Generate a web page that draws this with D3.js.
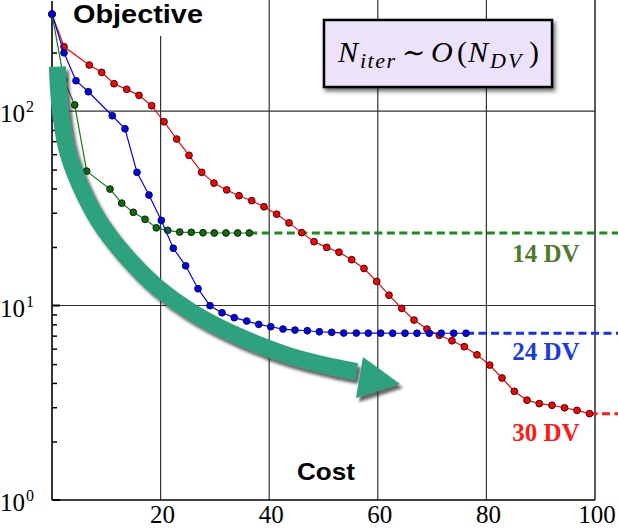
<!DOCTYPE html>
<html>
<head>
<meta charset="utf-8">
<script src="https://cdn.jsdelivr.net/npm/d3@7"></script>
<style>
  body { margin: 0; background: #fff; }
  svg { display: block; }
</style>
</head>
<body>
<script>
// values: cost (x) and objective (y)
let cost14 = [0, 2.21, 4.18, 6.39, 10.68, 12.84, 14.97, 17.13, 19.21, 21.31, 23.52, 25.65, 27.81, 29.89, 32.04, 34.2, 36.34]
let obj14 = [315, 144.3, 107.4, 49.1, 39.7, 33.6, 30.15, 27.75, 25.1, 24.36, 23.87, 23.8, 23.67, 23.6, 23.6, 23.6, 23.6]

let cost24 = [0, 2.21, 4.42, 6.69, 11.1, 13.44, 15.65, 17.86, 20.13, 22.34, 24.62, 26.89, 29.1, 31.31, 33.57, 35.86, 38.07,
  40.28, 42.54, 44.75, 47.02, 49.23, 51.51, 53.72, 56.04, 58.25, 60.53, 62.74, 65.01, 67.22, 69.48, 71.69, 73.98, 76.24]
let obj24 = [315, 199.4, 143.2, 125.7, 94.6, 81.1, 48.4, 37.0, 27.4, 19.7, 16.0, 12.2, 9.98, 9.18, 8.66, 8.32, 8.0,
  7.78, 7.57, 7.48, 7.42, 7.33, 7.28, 7.22, 7.22, 7.21, 7.21, 7.2, 7.2, 7.2, 7.2, 7.2, 7.2, 7.2]

let cost30 = [0, 2.21, 6.87, 9.15, 11.42, 13.76, 16.02, 18.36, 20.63, 22.96, 25.23, 27.57, 29.83, 32.17, 34.44, 36.78,
  39.04, 41.38, 43.65, 45.98, 48.25, 50.59, 52.85, 55.19, 57.46, 59.8, 62.06, 64.4, 66.67, 69.06, 71.33, 73.66, 75.93,
  78.27, 80.61, 82.87, 85.14, 87.48, 89.74, 92.08, 94.38, 96.69, 98.99]
let obj30 = [315, 214.1, 172.4, 158.1, 138.2, 129.3, 120.4, 106.5, 88.1, 71.8, 59.2, 48.4, 42.6, 39.3, 36.7, 34.6,
  32.2, 29.5, 26.6, 23.7, 21.3, 19.9, 18.8, 17.2, 15.5, 13.3, 11.3, 9.67, 8.42, 7.57, 7.03, 6.59, 6.14,
  5.58, 4.94, 4.24, 3.62, 3.26, 3.13, 3.07, 2.98, 2.89, 2.78]

let seriesNames = ['14 DV', '24 DV', '30 DV']
let xTicks = [20, 40, 60, 80, 100]
let yMajor = [1, 10, 100]
let yExponents = ['0', '1', '2']

// the big annotation arrow, in (cost, objective) units
let arrowShaft = [[0.98, 169], [1.47, 105.2], [2.71, 64.3], [5.16, 41.6], [8.53, 27.5], [13.13, 18.6],
  [19.28, 12.5], [26.65, 8.94], [35.23, 6.78], [43.83, 5.5], [51.51, 4.85], [56.11, 4.57]]
let arrowHead = [[57.27, 5.44], [64.09, 3.95], [55.98, 3.35]]

let W = 618, H = 529
let margins = { top: 1, right: 23, bottom: 29, left: 52 }
let width = W - margins.left - margins.right
let height = H - margins.top - margins.bottom

let x = d3.scaleLinear().domain([0, 100]).range([0, width])
let y = d3.scaleLog().domain([1, 368]).range([height, 0])

let svgRoot = d3.select('body').append('svg')
  .attr('width', W)
  .attr('height', H)

let defs = svgRoot.append('defs')
defs.append('filter').attr('id', 'shadow')
    .attr('x', '-20%').attr('y', '-20%').attr('width', '140%').attr('height', '140%')
  .append('feDropShadow')
    .attr('dx', 3).attr('dy', 4).attr('stdDeviation', 1.8)
    .attr('flood-color', '#333').attr('flood-opacity', 0.75)
defs.append('filter').attr('id', 'boxshadow')
    .attr('x', '-20%').attr('y', '-20%').attr('width', '140%').attr('height', '160%')
  .append('feDropShadow')
    .attr('dx', 2).attr('dy', 3).attr('stdDeviation', 2)
    .attr('flood-color', '#000').attr('flood-opacity', 0.6)

let svg = svgRoot.append('g')
  .attr('transform', 'translate(' + [margins.left, margins.top] + ')')

// grid
let gridColor = '#333'
svg.append('g').selectAll('line')
  .data(xTicks)
  .enter().append('line')
    .attr('x1', x).attr('x2', x)
    .attr('y1', -margins.top).attr('y2', height)
    .attr('stroke', gridColor)
    .attr('stroke-width', (d) => d === 100 ? 1.6 : 1.2)

svg.append('g').selectAll('line')
  .data(yMajor.slice(1))
  .enter().append('line')
    .attr('x1', 0).attr('x2', width)
    .attr('y1', y).attr('y2', y)
    .attr('stroke', gridColor)
    .attr('stroke-width', 1.2)

// y axis (ticks point into the plot)
let minor = y.ticks().filter((d) => d <= 200 && yMajor.indexOf(d) < 0)
svg.append('g')
  .attr('class', 'axis y')
  .call(d3.axisRight(y).tickValues(minor).tickSize(5).tickFormat(''))
  .call((g) => g.select('.domain').remove())
  .selectAll('line').attr('stroke-width', 1.5)

svg.append('g').selectAll('line')
  .data(yMajor)
  .enter().append('line')
    .attr('x1', 0).attr('x2', 8)
    .attr('y1', y).attr('y2', y)
    .attr('stroke', '#000')
    .attr('stroke-width', 2)

svg.append('line')
  .attr('x1', 0).attr('x2', 0)
  .attr('y1', 0).attr('y2', height)
  .attr('stroke', '#000').attr('stroke-width', 1.6)
svg.append('line')
  .attr('x1', 0).attr('x2', width)
  .attr('y1', height).attr('y2', height)
  .attr('stroke', '#000').attr('stroke-width', 1.6)

// tick labels
let serif = '"Liberation Serif", "Times New Roman", serif'
svg.append('g').selectAll('text')
  .data(xTicks)
  .enter().append('text')
    .attr('x', (d) => x(d) + 2)
    .attr('y', height + 23)
    .attr('text-anchor', 'middle')
    .attr('font-family', serif)
    .attr('font-size', 25)
    .text((d) => d)

let yLab = svg.append('g').selectAll('text')
  .data(yMajor)
  .enter().append('text')
    .attr('x', -18)
    .attr('y', (d) => y(d) + 11)
    .attr('text-anchor', 'end')
    .attr('font-family', serif)
    .attr('font-size', 25)
yLab.append('tspan').text('10')
yLab.append('tspan')
  .attr('font-size', 16)
  .attr('dy', -10)
  .attr('dx', 1)
  .text((d, i) => yExponents[i])

// title behind a white patch
svg.append('rect')
  .attr('x', 14).attr('y', -margins.top)
  .attr('width', 170).attr('height', 36)
  .attr('fill', '#fff')
svg.append('text')
  .attr('x', 21).attr('y', 22)
  .attr('font-family', '"Liberation Sans", Arial, sans-serif')
  .attr('font-weight', 'bold')
  .attr('font-size', 25)
  .attr('textLength', 130)
  .attr('lengthAdjust', 'spacingAndGlyphs')
  .text('Objective')

svg.append('text')
  .attr('x', 245).attr('y', 479)
  .attr('font-family', '"Liberation Sans", Arial, sans-serif')
  .attr('font-weight', 'bold')
  .attr('font-size', 24)
  .attr('textLength', 58)
  .attr('lengthAdjust', 'spacingAndGlyphs')
  .text('Cost')

// series
let series = [
  { name: seriesNames[0], cost: cost14, obj: obj14, line: '#0f7f0f', dot: '#0b6e0b', dash: '#1c8a1c', label: '#4d7a2b' },
  { name: seriesNames[1], cost: cost24, obj: obj24, line: '#0000ff', dot: '#0000ff', dash: '#1430f0', label: '#1a3ae0' },
  { name: seriesNames[2], cost: cost30, obj: obj30, line: '#ff0000', dot: '#ff0000', dash: '#ff1a1a', label: '#ff1a1a' }
]

let lineGen = d3.line()
  .x((d) => x(d[0]))
  .y((d) => y(d[1]))

// dashed continuations of each final value
series.forEach((s) => {
  let last = s.cost.length - 1
  svg.append('line')
    .attr('x1', x(s.cost[last])).attr('x2', W - margins.left)
    .attr('y1', y(s.obj[last])).attr('y2', y(s.obj[last]))
    .attr('stroke', s.dash)
    .attr('stroke-width', 3)
    .attr('stroke-dasharray', '8,4.5')
})

// red below green below blue
let order = [2, 0, 1]
order.forEach((k) => {
  let s = series[k]
  let pts = s.cost.map((c, i) => [c, s.obj[i]])
  svg.append('path')
    .attr('d', lineGen(pts))
    .attr('fill', 'none')
    .attr('stroke', s.line)
    .attr('stroke-width', 1.2)
  svg.append('g').selectAll('circle')
    .data(pts)
    .enter().append('circle')
      .attr('cx', (d) => x(d[0]))
      .attr('cy', (d) => y(d[1]))
      .attr('r', 3.4)
      .attr('fill', s.dot)
      .attr('stroke', '#111')
      .attr('stroke-width', 0.9)
})

// series labels
let labelY = [262, 360, 441]
svg.append('g').selectAll('text')
  .data(series)
  .enter().append('text')
    .attr('x', 494)
    .attr('y', (d, i) => labelY[i] - margins.top)
    .attr('text-anchor', 'middle')
    .attr('font-family', serif)
    .attr('font-weight', 'bold')
    .attr('font-size', 25)
    .attr('fill', (d) => d.label)
    .text((d) => d.name)

// curved arrow
let arrow = svg.append('g').attr('filter', 'url(#shadow)')
arrow.append('path')
  .attr('d', d3.line().x((d) => x(d[0])).y((d) => y(d[1])).curve(d3.curveCatmullRom)(arrowShaft))
  .attr('fill', 'none')
  .attr('stroke', '#2fa27f')
  .attr('stroke-width', 17)
arrow.append('path')
  .attr('d', 'M' + arrowHead.map((d) => [x(d[0]), y(d[1])]).join('L') + 'Z')
  .attr('fill', '#2fa27f')

// formula box
let box = svg.append('g').attr('transform', 'translate(' + [324 - margins.left, 20 - margins.top] + ')')
box.append('rect')
  .attr('width', 228).attr('height', 67)
  .attr('fill', '#ece3fa')
  .attr('stroke', '#000')
  .attr('stroke-width', 2.5)
  .attr('filter', 'url(#boxshadow)')
let f = box.append('text')
  .attr('y', 42)
  .attr('font-family', serif)
  .attr('font-style', 'italic')
  .attr('font-size', 30)
f.append('tspan').attr('x', 14).text('N')
f.append('tspan').attr('x', 36).attr('dy', 6).attr('font-size', 22).attr('letter-spacing', 1.5).text('iter')
f.append('tspan').attr('x', 78).attr('dy', -6).attr('font-style', 'normal')
  .attr('font-family', '"DejaVu Serif", serif').attr('font-size', 28).text('∼')
f.append('tspan').attr('x', 107).text('O')
f.append('tspan').attr('x', 133).attr('font-style', 'normal').text('(')
f.append('tspan').attr('x', 144).text('N')
f.append('tspan').attr('x', 166).attr('dy', 6).attr('font-size', 22).attr('letter-spacing', 2).text('DV')
f.append('tspan').attr('x', 205).attr('dy', -6).attr('font-style', 'normal').text(')')
</script>
</body>
</html>
